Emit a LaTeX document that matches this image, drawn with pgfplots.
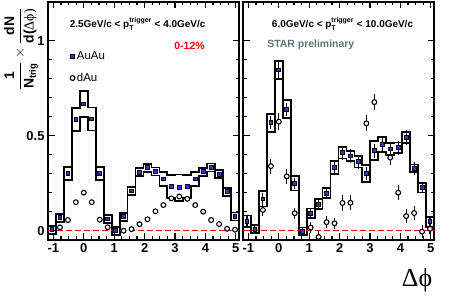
\documentclass[border=0pt]{standalone}
\usepackage{fontspec}
\setmainfont{Liberation Sans}
\newfontfamily\serifgreek{Liberation Serif}
\usepackage{pgfplots}
\pgfplotsset{compat=1.18}
\usepackage{pgfplotstable}

\definecolor{aublue}{RGB}{40,60,200}
\definecolor{stargray}{RGB}{95,115,120}

% left panel: step histograms (upper / lower band), bin left edges
\pgfplotstableread{
xe hi lo
-1.1781 0.026 -0.016
-0.9163 0.089 0.047
-0.6545 0.335 0.265
-0.3927 0.647 0.525
-0.1309 0.737 0.597
0.1309 0.649 0.527
0.3927 0.335 0.265
0.6545 0.083 0.041
0.9163 0.021 -0.021
1.1781 0.095 0.053
1.4399 0.230 0.188
1.7017 0.328 0.286
1.9635 0.353 0.311
2.2253 0.333 0.291
2.4871 0.307 0.237
2.7489 0.293 0.171
3.0107 0.296 0.156
3.2725 0.295 0.173
3.5343 0.307 0.237
3.7961 0.331 0.289
4.0579 0.354 0.312
4.3197 0.318 0.276
4.5815 0.226 0.184
4.8433 0.096 0.054
5.1051 0.096 0.054
}\lefthist

\pgfplotstableread{
x au dau
-1.0472 0.005 nan
-0.7854 0.068 0.018
-0.5236 0.300 0.056
-0.2618 0.586 0.150
0 0.667 0.200
0.2618 0.588 0.150
0.5236 0.300 0.058
0.7854 0.062 0.018
1.0472 0.000 nan
1.3090 0.074 0.000
1.5708 0.209 0.008
1.8326 0.307 0.034
2.0944 0.332 0.060
2.3562 0.312 0.102
2.6180 0.272 0.135
2.8798 0.232 0.170
3.1416 0.226 0.180
3.4034 0.234 0.168
3.6652 0.272 0.135
3.9270 0.310 0.100
4.1888 0.333 0.056
4.4506 0.297 0.035
4.7124 0.205 0.010
4.9742 0.075 0.005
}\leftpts

% right panel
\pgfplotstableread{
xe hi lo
-1.1781 0.080 0.020
-0.9163 0.028 -0.012
-0.6545 0.207 0.127
-0.3927 0.616 0.520
-0.1309 0.894 0.798
0.1309 0.686 0.592
0.3927 0.286 0.212
0.6545 0.017 -0.023
0.9163 0.117 0.067
1.1781 0.165 0.115
1.4399 0.223 0.171
1.7017 0.367 0.297
1.9635 0.440 0.380
2.2253 0.418 0.368
2.4871 0.393 0.333
2.7489 0.347 0.257
3.0107 0.471 0.371
3.2725 0.495 0.415
3.5343 0.460 0.400
3.7961 0.464 0.410
4.0579 0.520 0.460
4.3197 0.348 0.308
4.5815 0.251 0.201
4.8433 0.073 0.021
5.1051 0.073 0.021
}\righthist

\pgfplotstableread{
x au auerr dau dauerr
-1.0472 0.050 0.025 nan nan
-0.7854 0.006 0.025 nan nan
-0.5236 0.167 0.030 0.109 0.030
-0.2618 0.568 0.035 0.340 0.040
0 0.846 0.040 0.574 0.045
0.2618 0.639 0.035 0.286 0.040
0.5236 0.249 0.030 0.092 0.030
0.7854 -0.003 0.025 nan nan
1.0472 0.092 0.030 0.017 0.030
1.3090 0.140 0.030 -0.033 0.030
1.5708 0.197 0.030 0.045 0.030
1.8326 0.332 0.035 0.039 0.030
2.0944 0.410 0.037 0.146 0.040
2.3562 0.393 0.037 0.147 0.040
2.6180 0.363 0.037 nan nan
2.8798 0.302 0.035 0.565 0.042
3.1416 0.421 0.037 0.677 0.044
3.4034 0.455 0.037 nan nan
3.6652 0.430 0.037 0.385 0.040
3.9270 0.437 0.037 0.200 0.040
4.1888 0.490 0.040 0.077 0.035
4.4506 0.328 0.035 0.093 0.035
4.7124 0.226 0.030 -0.005 0.035
4.9742 0.047 0.030 0.010 0.030
}\rightpts

\begin{document}
\begin{tikzpicture}
\useasboundingbox (0,0) rectangle (458bp,301bp);
\pgfplotsset{
  panel/.style={
    scale only axis, width=191bp, height=238bp,
    xmin=-1.1781, xmax=5.1051, ymin=-0.049, ymax=1.204,
    xtick={-1,0,1,2,3,4,5}, minor x tick num=3,
    ytick={0,0.5,1}, minor y tick num=4,
    tick align=inside, major tick length=6.5bp, minor tick length=3.5bp,
    axis line style={line width=1.6bp},
    every tick/.style={black, line width=1.1bp},
    tick label style={font=\fontsize{13}{13}\selectfont\bfseries},
    /pgf/number format/assume math mode=true,
  },
  hist/.style={const plot, black, line width=1.8bp, forget plot},
  zero/.style={red, line width=1.4bp, dash pattern=on 5.5bp off 3.5bp, forget plot},
  aumark/.style={only marks, mark=square*, mark size=1.9bp,
     mark options={fill=aublue, draw=black, line width=0.9bp}},
  daumark/.style={only marks, mark=*, mark size=2.4bp,
     mark options={fill=white, draw=black, line width=1.1bp}},
}
% ---------------- left panel ----------------
\begin{axis}[panel, at={(48bp,61bp)}, anchor=south west,
  legend style={draw=none, fill=none, at={(axis description cs:0.115,0.80)},
    anchor=north west, font=\fontsize{11.5}{13}\selectfont,
    row sep=8bp, inner sep=0pt},
  legend cell align=left,
  legend image code/.code={\draw[#1, mark repeat=2, mark phase=2] plot coordinates {(0bp,0bp)(0bp,0bp)(7bp,0bp)};},
]
\addlegendimage{aumark}
\addlegendentry{AuAu}
\addlegendimage{daumark}
\addlegendentry{dAu}
\addplot[hist] table[x=xe, y=hi]{\lefthist};
\addplot[hist] table[x=xe, y=lo]{\lefthist};
\addplot[zero] coordinates {(-1.1781,0) (5.1051,0)};
\addplot[daumark, forget plot] table[x=x, y=dau]{\leftpts};
\addplot[aumark, forget plot] table[x=x, y=au]{\leftpts};
\node[font=\fontsize{10}{12}\selectfont\bfseries] at (axis description cs:0.469,0.908)
  {2.5GeV/c < p$_{\hbox{\fontsize{7}{8}\selectfont\bfseries T}}^{\hbox{\fontsize{7}{8}\selectfont trigger}}$ < 4.0GeV/c};
\node[font=\fontsize{10.5}{12}\selectfont\bfseries, text=red] at (axis description cs:0.741,0.815) {0-12\%};
\end{axis}
% ---------------- right panel ----------------
\begin{axis}[panel, at={(243bp,61bp)}, anchor=south west, yticklabels={}]
\addplot[hist] table[x=xe, y=hi]{\righthist};
\addplot[hist] table[x=xe, y=lo]{\righthist};
\addplot[zero] coordinates {(-1.1781,0) (5.1051,0)};
\addplot[daumark, forget plot,
  error bars/.cd, y dir=both, y explicit, error mark=none,
  error bar style={line width=1.1bp, black}]
  table[x=x, y=dau, y error=dauerr]{\rightpts};
\addplot[aumark, forget plot,
  error bars/.cd, y dir=both, y explicit, error mark=none,
  error bar style={line width=1.1bp, black}]
  table[x=x, y=au, y error=auerr]{\rightpts};
\node[font=\fontsize{10}{12}\selectfont\bfseries] at (axis description cs:0.521,0.908)
  {6.0GeV/c < p$_{\hbox{\fontsize{7}{8}\selectfont\bfseries T}}^{\hbox{\fontsize{7}{8}\selectfont trigger}}$ < 10.0GeV/c};
\node[font=\fontsize{10.5}{12}\selectfont\bfseries, text=stargray] at (axis description cs:0.355,0.819) {STAR preliminary};
\end{axis}
% axis titles
\node[rotate=90, font=\fontsize{14}{16}\selectfont\bfseries] at (21bp,252bp)
  {$\displaystyle\frac{\hbox{1}}{\hbox{N}_{\hbox{\fontsize{9.5}{10}\selectfont\bfseries trig}}}\times\frac{\hbox{dN}}{\hbox{d(\serifgreek\mdseries Δϕ)}}$};
\node[font=\fontsize{26}{28}\selectfont\serifgreek] at (417bp,21bp) {Δϕ};
\end{tikzpicture}
\end{document}
